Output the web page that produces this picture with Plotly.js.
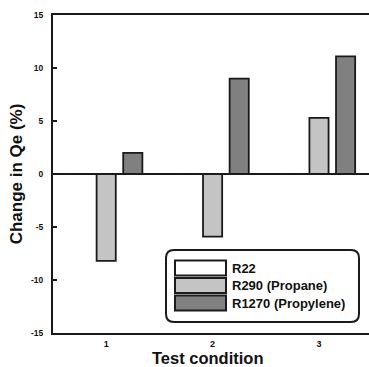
<!DOCTYPE html>
<html>
<head>
<meta charset="utf-8">
<script src="https://cdn.plot.ly/plotly-3.0.1.min.js"></script>
<style>html,body{margin:0;padding:0;overflow:hidden;background:#fff}#chart{width:369px;height:367px}</style>
</head>
<body>
<div id="chart"></div>
<script>
// ---- data ----
const conditions = [1, 2, 3];
const conditionLabels = ['1', '2', '3'];
const seriesNames = ['R22', 'R290 (Propane)', 'R1270 (Propylene)'];
const r22 = [0, 0, 0];
const r290 = [-8.2, -5.9, 5.3];
const r1270 = [2.0, 9.0, 11.1];
const yTickVals = [-15, -10, -5, 0, 5, 10, 15];
const yTickText = ['-15', '-10', '-5', '0', '5', '10', '15'];
const xTitle = 'Test condition';
const yTitle = 'Change in Qe (%)';

// ---- styles ----
const colors = ['#ffffff', '#c4c4c4', '#808080'];
const W = 369, H = 367, M = {l: 53, r: 0, t: 15, b: 34};
const pw = W - M.l - M.r, ph = H - M.t - M.b;
const px = x => (x - M.l) / pw;
const py = y => (H - M.b - y) / ph;
const font = {family: 'Liberation Sans, Arial, sans-serif', color: '#111', weight: 700};

const values = [r22, r290, r1270];
const traces = values.map((v, i) => ({
  type: 'bar', x: conditions, y: v, name: seriesNames[i],
  marker: {color: colors[i], line: {color: '#1a1a1a', width: 1.8}},
  hoverinfo: 'skip'
}));

// legend box (rounded) built from shapes + annotations
const bx0 = 166, bx1 = 359, by0 = 250, by1 = 322, r = 8;
const X = v => px(v), Y = v => py(v);
const rx = r / pw, ry = r / ph;
const path = `M ${X(bx0)+rx},${Y(by0)} L ${X(bx1)-rx},${Y(by0)} Q ${X(bx1)},${Y(by0)} ${X(bx1)},${Y(by0)-ry} ` +
  `L ${X(bx1)},${Y(by1)+ry} Q ${X(bx1)},${Y(by1)} ${X(bx1)-rx},${Y(by1)} ` +
  `L ${X(bx0)+rx},${Y(by1)} Q ${X(bx0)},${Y(by1)} ${X(bx0)},${Y(by1)+ry} ` +
  `L ${X(bx0)},${Y(by0)-ry} Q ${X(bx0)},${Y(by0)} ${X(bx0)+rx},${Y(by0)} Z`;
const shapes = [{type: 'path', xref: 'paper', yref: 'paper', path: path,
  line: {color: '#1a1a1a', width: 2}, fillcolor: '#ffffff', layer: 'above'}];
const annotations = [];
const rowCenters = [268, 285.5, 303];
seriesNames.forEach((n, i) => {
  const c = rowCenters[i];
  shapes.push({type: 'rect', xref: 'paper', yref: 'paper', x0: X(175), x1: X(226), y0: Y(c - 7.5), y1: Y(c + 7.5),
    fillcolor: colors[i], line: {color: '#1a1a1a', width: 2}, layer: 'above'});
  annotations.push({xref: 'paper', yref: 'paper', x: X(230), y: Y(c), text: n, showarrow: false,
    xanchor: 'left', yanchor: 'middle', font: Object.assign({}, font, {size: 13})});
});
// x-axis title placed as annotation below tick labels
annotations.push({xref: 'paper', yref: 'paper', x: X(208), y: Y(357.5), text: xTitle, showarrow: false,
  xanchor: 'center', yanchor: 'middle', borderpad: 0, font: Object.assign({}, font, {size: 16.5})});

const layout = {
  width: W, height: H, margin: M,
  paper_bgcolor: '#fff', plot_bgcolor: '#fff',
  showlegend: false, barmode: 'group', bargap: 0.25, bargroupgap: 0.28,
  xaxis: {range: [0.5, 3.47], tickvals: conditions, ticktext: conditionLabels, ticks: '',
    showline: true, linecolor: '#1a1a1a', linewidth: 2, mirror: true, showgrid: false, zeroline: false,
    tickfont: Object.assign({}, font, {size: 9}), ticklabelstandoff: 1},
  yaxis: {range: [-15, 15], tickvals: yTickVals, ticktext: yTickText, ticks: 'inside', ticklen: 4,
    tickwidth: 1.5, tickcolor: '#1a1a1a', showline: true, linecolor: '#1a1a1a', linewidth: 2,
    showgrid: false, zeroline: true, zerolinecolor: '#1a1a1a', zerolinewidth: 1.5,
    tickfont: Object.assign({}, font, {size: 8.5}), ticklabelstandoff: 6,
    title: {text: yTitle, font: Object.assign({}, font, {size: 17}), standoff: 4}},
  shapes: shapes, annotations: annotations
};
Plotly.newPlot('chart', traces, layout, {staticPlot: true, displayModeBar: false});
</script>
</body>
</html>
